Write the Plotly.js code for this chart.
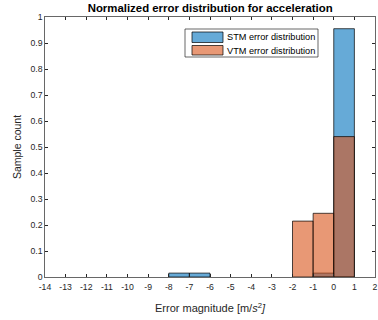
<!DOCTYPE html>
<html><head><meta charset="utf-8">
<script src="https://cdn.plot.ly/plotly-3.0.1.min.js"></script>
<style>html,body{margin:0;padding:0;background:#fff}#c{width:378px;height:320px}</style>
</head><body><div id="c"></div>
<script>
const binCenters = [-13.5,-12.5,-11.5,-10.5,-9.5,-8.5,-7.5,-6.5,-5.5,-4.5,-3.5,-2.5,-1.5,-0.5,0.5,1.5];
const stmValues  = [0,0,0,0,0,0,0.015,0.015,0,0,0,0,0,0.015,0.955,0];
const vtmValues  = [0,0,0,0,0,0,0,0,0,0,0,0,0.215,0.245,0.54,0];
const seriesNames = ['STM error distribution','VTM error distribution'];
const xTicks = [-14,-13,-12,-11,-10,-9,-8,-7,-6,-5,-4,-3,-2,-1,0,1,2];
const yTicks = [0,0.1,0.2,0.3,0.4,0.5,0.6,0.7,0.8,0.9,1];

const colors = ['rgba(0,114,189,0.6)','rgba(217,83,25,0.6)'];
function keep(xs, ys){const a=[],b=[];ys.forEach((v,i)=>{if(v>0){a.push(xs[i]);b.push(v);}});return [a,b];}
const s = keep(binCenters, stmValues), v = keep(binCenters, vtmValues);
const font = {family:'"Liberation Sans", Arial, sans-serif', color:'#262626'};
const data = [
 {type:'bar', name:seriesNames[0], x:s[0], y:s[1], width:1, showlegend:false,
  marker:{color:colors[0], line:{color:'#000', width:0.7}}},
 {type:'bar', name:seriesNames[1], x:v[0], y:v[1], width:1, showlegend:false,
  marker:{color:colors[1], line:{color:'#000', width:0.7}}}
];
// legend drawn in pixel space -> paper coords
const L=45, T=17, W=330, H=260;
const px = p => (p-L)/W, py = p => 1-(p-T)/H;
const shapes = [
 {type:'rect', xref:'paper', yref:'paper', x0:px(185), x1:px(318), y0:py(29), y1:py(57), fillcolor:'#fff', line:{color:'#262626', width:0.7}, layer:'above'},
 {type:'rect', xref:'paper', yref:'paper', x0:px(192), x1:px(223), y0:py(32), y1:py(42.5), fillcolor:colors[0], line:{color:'#000', width:0.7}, layer:'above'},
 {type:'rect', xref:'paper', yref:'paper', x0:px(192), x1:px(223), y0:py(45.5), y1:py(55), fillcolor:colors[1], line:{color:'#000', width:0.7}, layer:'above'}
];
const annotations = [
 {xref:'paper', yref:'paper', x:px(224.5), y:py(37.5), xanchor:'left', yanchor:'middle', showarrow:false, text:seriesNames[0], font:Object.assign({}, font, {size:9.2, color:'#000'})},
 {xref:'paper', yref:'paper', x:px(224.5), y:py(50.5), xanchor:'left', yanchor:'middle', showarrow:false, text:seriesNames[1], font:Object.assign({}, font, {size:9.2, color:'#000'})}
];
const layout = {
 width:378, height:320, margin:{l:45, r:3, t:17, b:43},
 barmode:'overlay', paper_bgcolor:'#fff', plot_bgcolor:'#fff', showlegend:false,
 font:Object.assign({size:8.5}, font), shapes:shapes, annotations:annotations,
 title:{text:'<b>Normalized error distribution for acceleration</b>', x:0.556, xanchor:'center', y:0.975, yanchor:'middle', font:Object.assign({}, font, {size:11.4, color:'#000'})},
 xaxis:{range:[-14,2], tickvals:xTicks, ticktext:xTicks.map(String), ticks:'inside', ticklen:3, tickcolor:'#262626',
  showline:true, linecolor:'#262626', linewidth:0.7, mirror:'allticks', showgrid:false, zeroline:false,
  ticklabelstandoff:2, tickfont:Object.assign({size:8.7}, font),
  title:{text:'Error magnitude [m/<i>s</i><sup>2</sup><i>]</i>', standoff:13, font:Object.assign({size:11}, font)}},
 yaxis:{range:[0,1], tickvals:yTicks, ticktext:yTicks.map(String), ticks:'inside', ticklen:3, tickcolor:'#262626',
  showline:true, linecolor:'#262626', linewidth:0.7, mirror:'allticks', showgrid:false, zeroline:false,
  tickfont:Object.assign({size:8.7}, font),
  title:{text:'Sample count', standoff:6, font:Object.assign({size:10.5}, font)}}
};
Plotly.newPlot('c', data, layout, {displayModeBar:false, staticPlot:true});
</script></body></html>
